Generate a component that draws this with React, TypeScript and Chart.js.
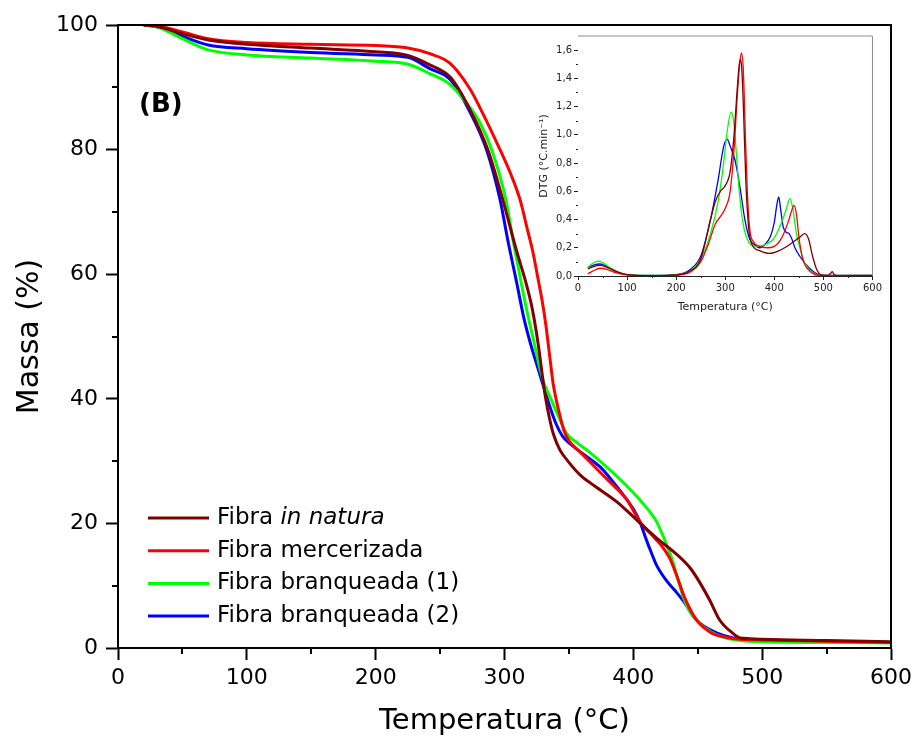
import React, { useEffect, useRef } from "react";
import { Chart, registerables } from "chart.js";

Chart.register(...registerables);

// ---------- data ----------
const seriesNames = ["Fibra in natura", "Fibra mercerizada", "Fibra branqueada (1)", "Fibra branqueada (2)"];
const italicPhrase = "in natura";
const seriesColors = ["#800000", "#ff0000", "#00ff00", "#0000ff"];
const panelLabel = "(B)";

const mainXTicks = [0, 100, 200, 300, 400, 500, 600];
const mainYTicks = [0, 20, 40, 60, 80, 100];
const insetXTicks = [0, 100, 200, 300, 400, 500, 600];
const insetYTicks = [0, 0.2, 0.4, 0.6, 0.8, 1.0, 1.2, 1.4, 1.6];

// TGA: [temperature °C, mass %]
const tgaInNatura: [number, number][] = [
  [20, 100], [30, 99.8], [50, 98.6], [70, 97.6], [100, 96.9], [150, 96.3], [200, 95.7], [225, 95.1],
  [242, 93.6], [258, 91.6], [273, 86.5], [287, 80], [298.6, 72], [309, 64], [316.7, 58.6], [321, 55],
  [324.5, 51], [327, 47.5], [329.5, 43.5], [332, 40], [335, 36.8], [338, 34.3], [343, 31.8], [350, 29.8],
  [358.6, 27.8], [370, 26.0], [387, 23.5], [405, 20.1], [420, 17.3], [431, 15.5], [445, 12.6], [459, 7.8],
  [467, 4.5], [477, 2.4], [483, 1.6], [490, 1.5], [500, 1.4], [550, 1.2], [600, 1.0],
];
const tgaMercerizada: [number, number][] = [
  [20, 100], [30, 99.9], [50, 98.9], [70, 97.8], [100, 97.2], [150, 96.9], [200, 96.7], [225, 96.3],
  [242, 95.4], [258, 93.8], [273, 89.8], [281, 86.7], [296.5, 80], [305, 76], [312, 72], [318, 67],
  [322, 63.6], [326, 59.3], [329, 56], [332, 52], [335, 47], [337.7, 42.5], [340.5, 39.5], [343, 37.3],
  [346, 35], [350, 33.3], [358, 31.6], [370, 29.1], [380, 27], [395, 23.8], [405, 20.3], [415, 18.0],
  [422, 16.4], [428, 14.5], [433, 12], [440, 8], [449, 4.5], [460, 2.5], [470, 1.8], [483, 1.4],
  [500, 1.3], [550, 1.1], [600, 0.9],
];
const tgaBranqueada1: [number, number][] = [
  [20, 100], [30, 99.7], [50, 97.8], [70, 96.0], [100, 95.2], [150, 94.7], [200, 94.2], [225, 93.7],
  [242, 92.2], [258, 90.4], [273, 86.8], [281, 84.3], [290, 80], [301, 72], [307, 65], [313, 58.6],
  [318, 53.5], [323, 49], [327, 45.3], [331, 42.3], [336, 40], [341, 37.6], [348, 34.5], [356, 33],
  [365, 31.6], [379, 29.1], [390, 27], [405, 23.8], [413, 21.8], [418, 20.3], [422, 18.5], [426, 16.5],
  [430, 14.3], [434, 11.5], [439, 8], [444, 5.8], [449, 4.5], [460, 2.6], [470, 1.7], [483, 1.2],
  [500, 1.0], [550, 0.9], [600, 0.8],
];
const tgaBranqueada2: [number, number][] = [
  [20, 100], [30, 99.7], [50, 98.2], [70, 96.8], [100, 96.2], [150, 95.6], [200, 95.2], [225, 94.8],
  [242, 93.0], [258, 91.2], [273, 86.1], [286, 80], [296.5, 72], [303, 65], [309.5, 58.6], [315, 53],
  [320, 49], [325.5, 45.2], [330, 42.2], [334, 39.5], [340, 36], [345, 34], [352, 32.6], [360, 31.3],
  [374, 29.1], [381, 27.5], [395, 23.8], [400, 22.3], [405, 20.3], [409, 18], [413, 15.8], [418, 13.3],
  [425, 11], [432, 9.3], [439, 7.5], [449, 4.5], [465, 2.4], [478, 1.6], [490, 1.2], [500, 1.1],
  [550, 1.0], [600, 0.9],
];

// DTG: [temperature °C, DTG]
const dtgInNatura: [number, number][] = [
  [20, 0.05], [30, 0.065], [45, 0.075], [60, 0.06], [80, 0.03], [100, 0.01], [150, 0.003], [200, 0.008],
  [225, 0.03], [250, 0.12], [270, 0.4], [280, 0.53], [290, 0.6], [300, 0.64], [310, 0.74], [318, 1.0],
  [325, 1.35], [330, 1.53], [333, 1.5], [337, 1.2], [342, 0.67], [348, 0.33], [355, 0.22], [370, 0.18],
  [390, 0.16], [410, 0.18], [430, 0.22], [450, 0.27], [462, 0.3], [470, 0.26], [478, 0.14], [486, 0.05],
  [495, 0.01], [510, 0.005], [515, 0.02], [518, 0.03], [522, 0.01], [530, 0.0], [600, 0.003],
];
const dtgMercerizada: [number, number][] = [
  [20, 0.015], [30, 0.035], [45, 0.055], [60, 0.045], [80, 0.02], [100, 0.008], [150, 0.002], [200, 0.005],
  [230, 0.03], [250, 0.1], [265, 0.22], [280, 0.37], [290, 0.42], [300, 0.48], [310, 0.6], [318, 0.9],
  [325, 1.3], [330, 1.52], [333, 1.58], [337, 1.45], [341, 1.0], [345, 0.6], [350, 0.33], [358, 0.24],
  [370, 0.21], [385, 0.2], [400, 0.21], [415, 0.27], [428, 0.38], [436, 0.47], [440, 0.5], [445, 0.44],
  [450, 0.28], [458, 0.12], [468, 0.05], [480, 0.015], [495, 0.003], [600, 0.005],
];
const dtgBranqueada1: [number, number][] = [
  [20, 0.06], [30, 0.09], [40, 0.105], [50, 0.095], [65, 0.06], [80, 0.03], [100, 0.01], [150, 0.004],
  [200, 0.008], [230, 0.04], [250, 0.12], [270, 0.3], [285, 0.52], [295, 0.75], [305, 1.05], [312, 1.16],
  [317, 1.1], [322, 0.9], [328, 0.62], [335, 0.4], [345, 0.26], [360, 0.21], [380, 0.22], [400, 0.27],
  [415, 0.38], [425, 0.48], [432, 0.55], [438, 0.47], [445, 0.3], [452, 0.2], [460, 0.11], [470, 0.05],
  [485, 0.01], [500, 0.003], [600, 0.005],
];
const dtgBranqueada2: [number, number][] = [
  [20, 0.06], [30, 0.075], [45, 0.085], [60, 0.065], [80, 0.03], [100, 0.01], [150, 0.004], [200, 0.01],
  [230, 0.05], [250, 0.14], [270, 0.4], [285, 0.67], [297, 0.92], [304, 0.97], [310, 0.92], [320, 0.82],
  [330, 0.63], [340, 0.4], [350, 0.26], [360, 0.22], [370, 0.2], [380, 0.22], [392, 0.28], [400, 0.38],
  [405, 0.5], [409, 0.56], [413, 0.47], [418, 0.35], [424, 0.31], [430, 0.3], [436, 0.26], [442, 0.2],
  [452, 0.14], [465, 0.08], [480, 0.03], [495, 0.005], [600, 0.005],
];

const tgaSeries = [tgaInNatura, tgaMercerizada, tgaBranqueada1, tgaBranqueada2];
const dtgSeries = [dtgInNatura, dtgMercerizada, dtgBranqueada1, dtgBranqueada2];

const FONT = "DejaVu Sans";

// ---------- plugin: frame, minor ticks, legend, panel label ----------
const decoPlugin = {
  id: "deco",
  beforeDatasetsDraw(chart: any, _args: any, opts: any) {
    if (!opts.areaFill) return;
    const { ctx, chartArea: a } = chart;
    ctx.save();
    ctx.fillStyle = opts.areaFill;
    ctx.fillRect(a.left, a.top, a.right - a.left, a.bottom - a.top);
    ctx.restore();
  },
  afterDraw(chart: any, _args: any, opts: any) {
    const { ctx, chartArea: a, scales } = chart;
    ctx.save();
    // frame (top + right)
    ctx.strokeStyle = opts.frameColor;
    ctx.lineWidth = opts.frameWidth;
    ctx.beginPath();
    ctx.moveTo(a.left, a.top);
    ctx.lineTo(a.right, a.top);
    ctx.lineTo(a.right, a.bottom);
    ctx.stroke();

    // minor ticks
    ctx.strokeStyle = opts.tickColor;
    ctx.lineWidth = opts.tickWidth;
    const xs = scales.x;
    const ys = scales.y;
    ctx.beginPath();
    for (let k = 1; k * opts.minorX < xs.max - 1e-9; k++) {
      if (k % opts.ratioX === 0) continue;
      const px = Math.round(xs.getPixelForValue(k * opts.minorX)) + (opts.tickWidth % 2 ? 0.5 : 0);
      ctx.moveTo(px, a.bottom);
      ctx.lineTo(px, a.bottom + opts.minorLen);
    }
    for (let k = 1; k * opts.minorY < ys.max - 1e-9; k++) {
      if (k % opts.ratioY === 0) continue;
      const py = Math.round(ys.getPixelForValue(k * opts.minorY)) + (opts.tickWidth % 2 ? 0.5 : 0);
      ctx.moveTo(a.left, py);
      ctx.lineTo(a.left - opts.minorLen, py);
    }
    ctx.stroke();

    // legend
    if (opts.legend) {
      const L = opts.legend;
      chart.data.datasets.forEach((ds: any, i: number) => {
        const y = a.top + L.top + i * L.spacing;
        ctx.strokeStyle = ds.borderColor;
        ctx.lineWidth = L.lineWidth;
        ctx.beginPath();
        ctx.moveTo(a.left + L.left, y);
        ctx.lineTo(a.left + L.left + L.lineLen, y);
        ctx.stroke();
        ctx.fillStyle = "#000";
        ctx.textBaseline = "middle";
        ctx.textAlign = "left";
        let x = a.left + L.left + L.lineLen + L.gap;
        const label: string = ds.label;
        const idx = label.indexOf(italicPhrase);
        const parts: [string, boolean][] =
          idx >= 0
            ? [
                [label.slice(0, idx), false],
                [italicPhrase, true],
                [label.slice(idx + italicPhrase.length), false],
              ]
            : [[label, false]];
        parts.forEach(([txt, it]) => {
          if (!txt) return;
          ctx.font = `${it ? "italic " : ""}${L.fontSize}px "${FONT}"`;
          ctx.fillText(txt, x, y);
          x += ctx.measureText(txt).width;
        });
      });
    }

    // panel label
    if (opts.panel) {
      ctx.fillStyle = "#000";
      ctx.font = `bold ${opts.panel.fontSize}px "${FONT}"`;
      ctx.textAlign = "left";
      ctx.textBaseline = "middle";
      ctx.fillText(opts.panel.text, a.left + opts.panel.left, a.top + opts.panel.top);
    }
    ctx.restore();
  },
};

const toXY = (pts: [number, number][]) => pts.map(([x, y]) => ({ x, y }));

export default function App() {
  const mainRef = useRef<HTMLCanvasElement>(null);
  const insetRef = useRef<HTMLCanvasElement>(null);

  useEffect(() => {
    document.body.style.margin = "0";
    const mainChart = new Chart(mainRef.current as HTMLCanvasElement, {
      type: "line",
      data: {
        datasets: tgaSeries.map((pts, i) => ({
          label: seriesNames[i],
          data: toXY(pts),
          borderColor: seriesColors[i],
          backgroundColor: seriesColors[i],
          borderWidth: 3,
          pointRadius: 0,
          fill: false,
          cubicInterpolationMode: "monotone",
        })),
      },
      options: {
        responsive: false,
        animation: false,
        devicePixelRatio: 1,
        layout: { padding: { top: 25, right: 28, left: 0, bottom: 0 } },
        plugins: {
          legend: { display: false },
          tooltip: { enabled: false },
          deco: {
            frameColor: "#000",
            frameWidth: 2,
            tickColor: "#000",
            tickWidth: 2,
            minorX: 50,
            ratioX: 2,
            minorY: 10,
            ratioY: 2,
            minorLen: 6,
            legend: { top: 493, spacing: 32.7, left: 30, lineLen: 61, gap: 8, lineWidth: 3, fontSize: 23 },
            panel: { text: panelLabel, left: 21, top: 80, fontSize: 26 },
          },
        } as any,
        scales: {
          x: {
            type: "linear",
            min: 0,
            max: 600,
            afterBuildTicks: (s: any) => {
              s.ticks = mainXTicks.map((v) => ({ value: v }));
            },
            afterFit: (s: any) => {
              s.height = 101;
            },
            ticks: { font: { family: FONT, size: 22 }, color: "#000", padding: 5, maxRotation: 0, autoSkip: false },
            grid: { drawOnChartArea: false, drawTicks: true, tickLength: 12, tickWidth: 2, tickColor: "#000" },
            border: { display: true, color: "#000", width: 2 },
            title: {
              display: true,
              text: "Temperatura (°C)",
              font: { family: FONT, size: 29 },
              color: "#000",
              padding: { top: 0, bottom: 10 },
            },
          },
          y: {
            type: "linear",
            min: 0,
            max: 100,
            afterBuildTicks: (s: any) => {
              s.ticks = mainYTicks.map((v) => ({ value: v }));
            },
            afterFit: (s: any) => {
              s.width = 118;
            },
            ticks: { font: { family: FONT, size: 22 }, color: "#000", padding: 8, autoSkip: false },
            grid: { drawOnChartArea: false, drawTicks: true, tickLength: 12, tickWidth: 2, tickColor: "#000" },
            border: { display: true, color: "#000", width: 2 },
            title: {
              display: true,
              text: "Massa (%)",
              font: { family: FONT, size: 30 },
              color: "#000",
              padding: { top: 12, bottom: 0 },
            },
          },
        },
      },
      plugins: [decoPlugin as any],
    } as any);

    const insetChart = new Chart(insetRef.current as HTMLCanvasElement, {
      type: "line",
      data: {
        datasets: dtgSeries.map((pts, i) => ({
          label: seriesNames[i],
          data: toXY(pts),
          borderColor: seriesColors[i],
          backgroundColor: seriesColors[i],
          borderWidth: 1.3,
          pointRadius: 0,
          fill: false,
          cubicInterpolationMode: "monotone",
        })),
      },
      options: {
        responsive: false,
        animation: false,
        devicePixelRatio: 1,
        layout: { padding: { top: 5, right: 5, left: 0, bottom: 0 } },
        plugins: {
          legend: { display: false },
          tooltip: { enabled: false },
          deco: {
            areaFill: "#fff",
            frameColor: "#8c8c8c",
            frameWidth: 1,
            tickColor: "#222",
            tickWidth: 1,
            minorX: 50,
            ratioX: 2,
            minorY: 0.1,
            ratioY: 2,
            minorLen: 2,
          },
        } as any,
        scales: {
          x: {
            type: "linear",
            min: 0,
            max: 600,
            afterBuildTicks: (s: any) => {
              s.ticks = insetXTicks.map((v) => ({ value: v }));
            },
            afterFit: (s: any) => {
              s.height = 48;
            },
            ticks: { font: { family: FONT, size: 10 }, color: "#222", padding: 2, maxRotation: 0, autoSkip: false },
            grid: { drawOnChartArea: false, drawTicks: true, tickLength: 4, tickWidth: 1, tickColor: "#222" },
            border: { display: true, color: "#222", width: 1 },
            title: {
              display: true,
              text: "Temperatura (°C)",
              font: { family: FONT, size: 11 },
              color: "#222",
              padding: { top: 0, bottom: 10 },
            },
          },
          y: {
            type: "linear",
            min: 0,
            max: 1.7,
            afterBuildTicks: (s: any) => {
              s.ticks = insetYTicks.map((v) => ({ value: v }));
            },
            afterFit: (s: any) => {
              s.width = 50;
            },
            ticks: {
              font: { family: FONT, size: 10 },
              color: "#222",
              padding: 2,
              autoSkip: false,
              callback: (v: any) => Number(v).toFixed(1).replace(".", ","),
            },
            grid: { drawOnChartArea: false, drawTicks: true, tickLength: 4, tickWidth: 1, tickColor: "#222" },
            border: { display: true, color: "#222", width: 1 },
            title: {
              display: true,
              text: "DTG (°C.min⁻¹)",
              font: { family: FONT, size: 11 },
              color: "#222",
              padding: { top: 10, bottom: 0 },
            },
          },
        },
      },
      plugins: [decoPlugin as any],
    } as any);

    return () => {
      mainChart.destroy();
      insetChart.destroy();
    };
  }, []);

  return (
    <div style={{ position: "relative", width: 919, height: 749, background: "#fff" }}>
      <canvas ref={mainRef} width={919} height={749} style={{ position: "absolute", left: 0, top: 0 }} />
      <canvas
        ref={insetRef}
        width={356}
        height={296}
        style={{ position: "absolute", left: 528, top: 28 }}
      />
    </div>
  );
}
